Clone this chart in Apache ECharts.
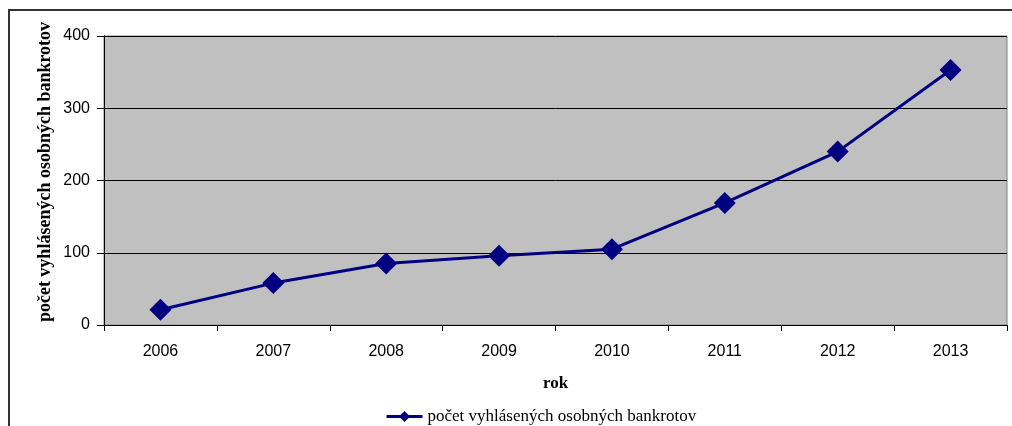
<!DOCTYPE html>
<html>
<head>
<meta charset="utf-8">
<script src="https://cdn.jsdelivr.net/npm/echarts@6/dist/echarts.min.js"></script>
<style>
html,body{margin:0;padding:0;background:#fff;}
#chart{width:1012px;height:426px;}
</style>
</head>
<body>
<div id="chart"></div>
<script>
const years = ['2006','2007','2008','2009','2010','2011','2012','2013'];
const bankruptcies = [21, 58, 85, 96, 105, 169, 240, 353];
const seriesName = 'počet vyhlásených osobných bankrotov';
const yAxisTitle = 'počet vyhlásených osobných bankrotov';
const xAxisTitle = 'rok';

const chart = echarts.init(document.getElementById('chart'), null, {renderer:'canvas'});
chart.setOption({
  animation: false,
  backgroundColor: '#ffffff',
  grid: {
    left: 104, right: 5, top: 36, bottom: 101,
    show: true, backgroundColor: '#C0C0C0', borderColor: '#808080', borderWidth: 1
  },
  graphic: [
    {type:'rect', shape:{x:9, y:10, width:1100, height:500}, style:{fill:'none', stroke:'#333', lineWidth:2}, silent:true},
    {type:'text', x:45, y:172, rotation: Math.PI/2, style:{text:yAxisTitle, font:'bold 18px "Liberation Serif"', fill:'#000', align:'center', verticalAlign:'middle'}}
  ],
  legend: {
    data: [seriesName],
    top: 403,
    left: 380,
    itemWidth: 36,
    itemHeight: 14,
    itemGap: 6,
    lineStyle: {width: 3},
    textStyle: {fontFamily:'Liberation Serif', fontSize:17, color:'#000'}
  },
  xAxis: {
    type: 'category',
    data: years,
    boundaryGap: true,
    name: xAxisTitle,
    nameLocation: 'middle',
    nameGap: 50,
    nameTextStyle: {fontFamily:'Liberation Serif', fontWeight:'bold', fontSize:17, color:'#000'},
    axisLine: {lineStyle:{color:'#000', width:1}},
    axisTick: {show:true, length:6, lineStyle:{color:'#000'}},
    axisLabel: {fontFamily:'Liberation Sans', fontSize:16, color:'#000', margin:19}
  },
  yAxis: {
    type: 'value',
    min: 0, max: 400, interval: 100,
    axisLine: {show:true, lineStyle:{color:'#000', width:1}},
    axisTick: {show:true, length:7, lineStyle:{color:'#000'}},
    axisLabel: {fontFamily:'Liberation Sans', fontSize:16, color:'#000', margin:14},
    splitLine: {show:true, lineStyle:{color:'#000', width:1}}
  },
  series: [{
    name: seriesName,
    type: 'line',
    data: bankruptcies,
    symbol: 'diamond',
    symbolSize: 22,
    lineStyle: {color:'#000080', width:3},
    itemStyle: {color:'#000080'}
  }]
});
</script>
</body>
</html>
